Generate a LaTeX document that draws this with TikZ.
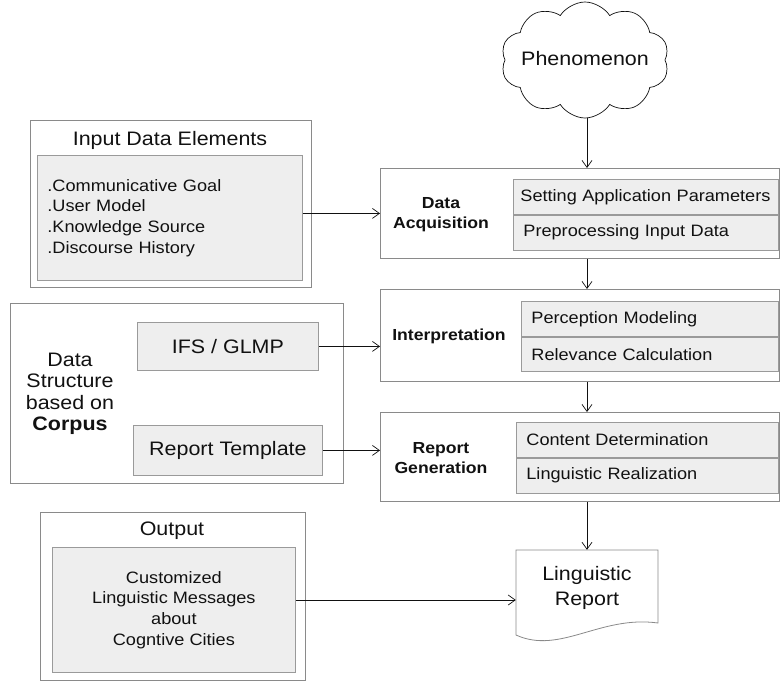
\documentclass[tikz,border=0pt]{standalone}
\usepackage{fontspec}
\setmainfont{Liberation Sans}[FakeStretch=1.1]
\usepackage{tikz}
\usetikzlibrary{arrows.meta,shapes.symbols}
\definecolor{edge}{HTML}{8A8A8A}
\definecolor{inedge}{HTML}{9A9A9A}
\definecolor{shadec}{HTML}{EEEEEE}
\definecolor{ink}{HTML}{111111}

\begin{document}
\begin{tikzpicture}[x=1pt,y=-1pt,
  panel/.style={draw=edge,line width=0.8pt,fill=white,inner sep=0pt,anchor=north west},
  shade/.style={draw=inedge,line width=0.8pt,fill=shadec,inner sep=0pt,anchor=north west},
  row/.style={shade,text width=#1,align=left,inner xsep=10pt,minimum height=35pt},
  big/.style={font=\fontsize{19.5}{21.5}\selectfont,text=ink},
  mid/.style={font=\fontsize{16.5}{20.7}\selectfont,text=ink},
  head/.style={font=\fontsize{16}{20}\selectfont\bfseries,text=ink,align=center},
  arr/.style={-{Straight Barb[length=7pt,width=10pt]},line width=0.7pt,ink}]
  \useasboundingbox (0,0) rectangle (780,681);
  % the observed phenomenon
  \node[cloud,cloud puffs=10,cloud puff arc=115,aspect=1.5,draw=ink,line width=0.7pt,fill=white,
        minimum width=168pt,minimum height=116pt,inner sep=0pt] (phen) at (585,60) {};
  \node[big] (phent) at (585,59) {Phenomenon};
  % left column: inputs
  \node[panel,minimum width=281pt,minimum height=167pt] (ide) at (30,120) {};
  \node[big] (idet) at (170,140) {Input Data Elements};
  \node[shade,mid,minimum width=265pt,minimum height=125pt,text width=245pt,align=left,inner xsep=10pt] (idein) at (37,155)
       {.Communicative Goal\\.User Model\\.Knowledge Source\\.Discourse History};
  \node[panel,minimum width=333pt,minimum height=180pt] (ds) at (10,303) {};
  \node[big,align=center] (dst) at (70,394) {Data\\Structure\\based on\\\textbf{Corpus}};
  \node[shade,big,minimum width=181pt,minimum height=48pt] (ifs) at (137,322) {IFS / GLMP};
  \node[shade,big,minimum width=189pt,minimum height=50pt] (tpl) at (133,425) {Report Template};
  \node[panel,minimum width=265pt,minimum height=168pt] (out) at (40,512) {};
  \node[big] (outt) at (172,531) {Output};
  \node[shade,mid,align=center,minimum width=243pt,minimum height=125pt] (outin) at (52,547)
       {Customized\\Linguistic Messages\\about\\Cogntive Cities};
  % right column: the three stages
  \node[panel,minimum width=399pt,minimum height=90pt] (da) at (380,168) {};
  \node[head] (dal) at (441,215) {Data\\Acquisition};
  \node[row=251pt,mid,inner xsep=7pt] (da1) at (513,179) {\mbox{Setting Application Parameters}};
  \node[row=245pt,mid] (da2) at (da1.south west) {Preprocessing Input Data};
  \node[panel,minimum width=399pt,minimum height=92pt] (interp) at (380,289) {};
  \node[head] (intl) at (449,336) {Interpretation};
  \node[row=237pt,mid] (in1) at (521,301) {Perception Modeling};
  \node[row=237pt,mid,minimum height=34pt] (in2) at (in1.south west) {Relevance Calculation};
  \node[panel,minimum width=399pt,minimum height=89pt] (rg) at (380,412) {};
  \node[head] (rgl) at (441,458) {Report\\Generation};
  \node[row=242pt,mid] (rg1) at (516,422) {Content Determination};
  \node[row=242pt,mid] (rg2) at (rg1.south west) {Linguistic Realization};
  % final document
  \node[minimum width=142pt,minimum height=100pt,inner sep=0pt] (doc) at (587,600) {};
  \draw[edge,line width=0.8pt,fill=white] (516,635) -- (516,550) -- (658,550) -- (658,623)
       .. controls (600,615) and (560,655) .. (516,635) -- cycle;
  \node[font=\fontsize{19.5}{25}\selectfont,text=ink,align=center] (doct) at (587,588) {Linguistic\\Report};
  % connectors
  \draw[arr] (phen.south -| doc.north) -- (da.north -| doc.north);
  \draw[arr] (da.south -| doc.north) -- (interp.north -| doc.north);
  \draw[arr] (interp.south -| doc.north) -- (rg.north -| doc.north);
  \draw[arr] (rg.south -| doc.north) -- (doc.north);
  \draw[arr] (idein.east |- da.west) -- (da.west);
  \draw[arr] (ifs.east) -- (ifs.east -| interp.west);
  \draw[arr] (tpl.east) -- (tpl.east -| rg.west);
  \draw[arr] (outin.east |- doc.west) -- (doc.west);
\end{tikzpicture}
\end{document}
